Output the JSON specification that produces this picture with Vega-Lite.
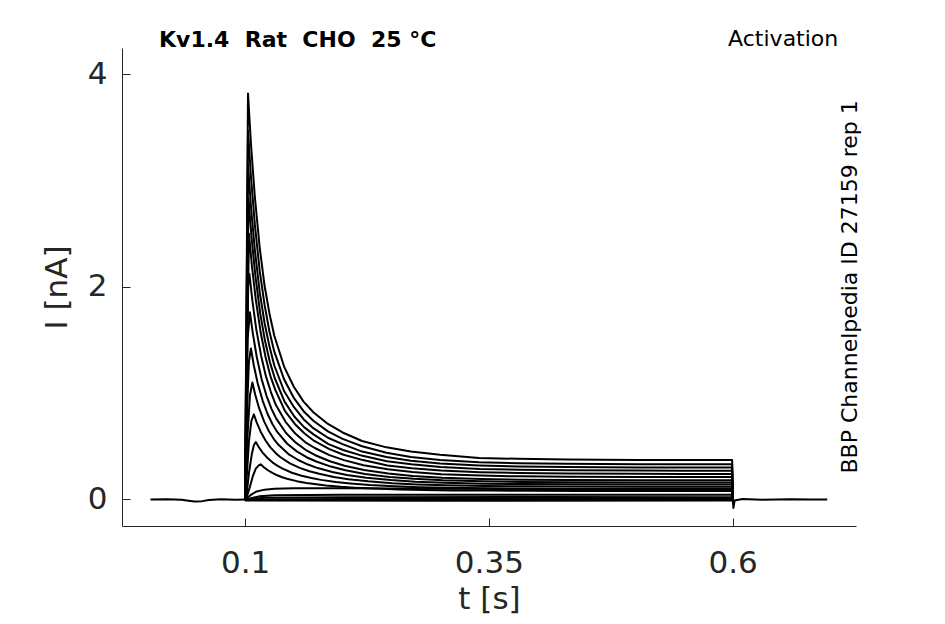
{
  "$schema": "https://vega.github.io/schema/vega-lite/v6.json",
  "width": 734,
  "height": 478,
  "autosize": "none",
  "padding": {"left": 122, "top": 48, "right": 89, "bottom": 98},
  "background": "white",
  "config": {
    "view": {"stroke": null},
    "font": "DejaVu Sans",
    "axis": {
      "grid": false,
      "domainColor": "#262626",
      "tickColor": "#262626",
      "labelColor": "#262626",
      "titleColor": "#262626",
      "labelFont": "DejaVu Sans",
      "titleFont": "DejaVu Sans",
      "labelFontSize": 31,
      "titleFontSize": 31,
      "titleFontWeight": "normal",
      "tickSize": -8
    }
  },
  "datasets": {
    "traces": [
      {"trace": "pre", "t": 0.003, "i": 0},
      {"trace": "pre", "t": 0.02, "i": 0.002},
      {"trace": "pre", "t": 0.035, "i": -0.003},
      {"trace": "pre", "t": 0.042, "i": -0.012},
      {"trace": "pre", "t": 0.048, "i": -0.02},
      {"trace": "pre", "t": 0.056, "i": -0.016},
      {"trace": "pre", "t": 0.063, "i": -0.006},
      {"trace": "pre", "t": 0.075, "i": 0.001},
      {"trace": "pre", "t": 0.09, "i": -0.002},
      {"trace": "pre", "t": 0.1, "i": 0},

      {"trace": "post", "t": 0.6, "i": 0},
      {"trace": "post", "t": 0.6008, "i": -0.08},
      {"trace": "post", "t": 0.602, "i": -0.01},
      {"trace": "post", "t": 0.61, "i": 0.004},
      {"trace": "post", "t": 0.63, "i": -0.002},
      {"trace": "post", "t": 0.66, "i": 0.002},
      {"trace": "post", "t": 0.68, "i": -0.001},
      {"trace": "post", "t": 0.697, "i": 0},

      {"trace": "s01", "t": 0.1, "i": 0},
      {"trace": "s01", "t": 0.103, "i": 3.82},
      {"trace": "s01", "t": 0.106, "i": 3.35},
      {"trace": "s01", "t": 0.11, "i": 2.85},
      {"trace": "s01", "t": 0.115, "i": 2.37},
      {"trace": "s01", "t": 0.12, "i": 2.01},
      {"trace": "s01", "t": 0.125, "i": 1.75},
      {"trace": "s01", "t": 0.13, "i": 1.54},
      {"trace": "s01", "t": 0.14, "i": 1.25},
      {"trace": "s01", "t": 0.15, "i": 1.06},
      {"trace": "s01", "t": 0.16, "i": 0.92},
      {"trace": "s01", "t": 0.17, "i": 0.82},
      {"trace": "s01", "t": 0.185, "i": 0.71},
      {"trace": "s01", "t": 0.2, "i": 0.63},
      {"trace": "s01", "t": 0.22, "i": 0.55},
      {"trace": "s01", "t": 0.245, "i": 0.49},
      {"trace": "s01", "t": 0.27, "i": 0.45},
      {"trace": "s01", "t": 0.3, "i": 0.42},
      {"trace": "s01", "t": 0.34, "i": 0.39},
      {"trace": "s01", "t": 0.38, "i": 0.382},
      {"trace": "s01", "t": 0.43, "i": 0.375},
      {"trace": "s01", "t": 0.503, "i": 0.371},
      {"trace": "s01", "t": 0.55, "i": 0.37},
      {"trace": "s01", "t": 0.5995, "i": 0.37},
      {"trace": "s01", "t": 0.6, "i": 0},

      {"trace": "s02", "t": 0.1, "i": 0},
      {"trace": "s02", "t": 0.103, "i": 3.47},
      {"trace": "s02", "t": 0.106, "i": 3.04},
      {"trace": "s02", "t": 0.11, "i": 2.59},
      {"trace": "s02", "t": 0.115, "i": 2.15},
      {"trace": "s02", "t": 0.12, "i": 1.83},
      {"trace": "s02", "t": 0.125, "i": 1.58},
      {"trace": "s02", "t": 0.13, "i": 1.39},
      {"trace": "s02", "t": 0.14, "i": 1.13},
      {"trace": "s02", "t": 0.15, "i": 0.955},
      {"trace": "s02", "t": 0.16, "i": 0.83},
      {"trace": "s02", "t": 0.17, "i": 0.74},
      {"trace": "s02", "t": 0.185, "i": 0.64},
      {"trace": "s02", "t": 0.2, "i": 0.57},
      {"trace": "s02", "t": 0.22, "i": 0.5},
      {"trace": "s02", "t": 0.245, "i": 0.44},
      {"trace": "s02", "t": 0.27, "i": 0.4},
      {"trace": "s02", "t": 0.3, "i": 0.37},
      {"trace": "s02", "t": 0.34, "i": 0.35},
      {"trace": "s02", "t": 0.38, "i": 0.341},
      {"trace": "s02", "t": 0.43, "i": 0.335},
      {"trace": "s02", "t": 0.503, "i": 0.331},
      {"trace": "s02", "t": 0.55, "i": 0.33},
      {"trace": "s02", "t": 0.5995, "i": 0.33},
      {"trace": "s02", "t": 0.6, "i": 0},

      {"trace": "s03", "t": 0.1, "i": 0},
      {"trace": "s03", "t": 0.103, "i": 3.15},
      {"trace": "s03", "t": 0.106, "i": 2.76},
      {"trace": "s03", "t": 0.11, "i": 2.35},
      {"trace": "s03", "t": 0.115, "i": 1.95},
      {"trace": "s03", "t": 0.12, "i": 1.66},
      {"trace": "s03", "t": 0.125, "i": 1.44},
      {"trace": "s03", "t": 0.13, "i": 1.26},
      {"trace": "s03", "t": 0.14, "i": 1.02},
      {"trace": "s03", "t": 0.15, "i": 0.87},
      {"trace": "s03", "t": 0.16, "i": 0.755},
      {"trace": "s03", "t": 0.17, "i": 0.67},
      {"trace": "s03", "t": 0.185, "i": 0.58},
      {"trace": "s03", "t": 0.2, "i": 0.52},
      {"trace": "s03", "t": 0.22, "i": 0.45},
      {"trace": "s03", "t": 0.245, "i": 0.4},
      {"trace": "s03", "t": 0.27, "i": 0.364},
      {"trace": "s03", "t": 0.3, "i": 0.338},
      {"trace": "s03", "t": 0.34, "i": 0.32},
      {"trace": "s03", "t": 0.38, "i": 0.31},
      {"trace": "s03", "t": 0.43, "i": 0.304},
      {"trace": "s03", "t": 0.503, "i": 0.301},
      {"trace": "s03", "t": 0.55, "i": 0.3},
      {"trace": "s03", "t": 0.5995, "i": 0.3},
      {"trace": "s03", "t": 0.6, "i": 0},

      {"trace": "s04", "t": 0.1, "i": 0},
      {"trace": "s04", "t": 0.1035, "i": 2.83},
      {"trace": "s04", "t": 0.1065, "i": 2.48},
      {"trace": "s04", "t": 0.1105, "i": 2.11},
      {"trace": "s04", "t": 0.1155, "i": 1.75},
      {"trace": "s04", "t": 0.1205, "i": 1.49},
      {"trace": "s04", "t": 0.1255, "i": 1.29},
      {"trace": "s04", "t": 0.1305, "i": 1.14},
      {"trace": "s04", "t": 0.1405, "i": 0.92},
      {"trace": "s04", "t": 0.1505, "i": 0.78},
      {"trace": "s04", "t": 0.1605, "i": 0.68},
      {"trace": "s04", "t": 0.1705, "i": 0.61},
      {"trace": "s04", "t": 0.1855, "i": 0.52},
      {"trace": "s04", "t": 0.2005, "i": 0.465},
      {"trace": "s04", "t": 0.2205, "i": 0.41},
      {"trace": "s04", "t": 0.2455, "i": 0.36},
      {"trace": "s04", "t": 0.2705, "i": 0.33},
      {"trace": "s04", "t": 0.3005, "i": 0.304},
      {"trace": "s04", "t": 0.3405, "i": 0.287},
      {"trace": "s04", "t": 0.3805, "i": 0.279},
      {"trace": "s04", "t": 0.4305, "i": 0.274},
      {"trace": "s04", "t": 0.5035, "i": 0.271},
      {"trace": "s04", "t": 0.55, "i": 0.27},
      {"trace": "s04", "t": 0.5995, "i": 0.27},
      {"trace": "s04", "t": 0.6, "i": 0},

      {"trace": "s05", "t": 0.1, "i": 0},
      {"trace": "s05", "t": 0.104, "i": 2.5},
      {"trace": "s05", "t": 0.107, "i": 2.2},
      {"trace": "s05", "t": 0.111, "i": 1.88},
      {"trace": "s05", "t": 0.116, "i": 1.57},
      {"trace": "s05", "t": 0.121, "i": 1.34},
      {"trace": "s05", "t": 0.126, "i": 1.16},
      {"trace": "s05", "t": 0.131, "i": 1.03},
      {"trace": "s05", "t": 0.141, "i": 0.83},
      {"trace": "s05", "t": 0.151, "i": 0.71},
      {"trace": "s05", "t": 0.161, "i": 0.62},
      {"trace": "s05", "t": 0.171, "i": 0.55},
      {"trace": "s05", "t": 0.186, "i": 0.475},
      {"trace": "s05", "t": 0.201, "i": 0.42},
      {"trace": "s05", "t": 0.221, "i": 0.37},
      {"trace": "s05", "t": 0.246, "i": 0.32},
      {"trace": "s05", "t": 0.271, "i": 0.293},
      {"trace": "s05", "t": 0.301, "i": 0.272},
      {"trace": "s05", "t": 0.341, "i": 0.256},
      {"trace": "s05", "t": 0.381, "i": 0.248},
      {"trace": "s05", "t": 0.431, "i": 0.243},
      {"trace": "s05", "t": 0.504, "i": 0.241},
      {"trace": "s05", "t": 0.55, "i": 0.24},
      {"trace": "s05", "t": 0.5995, "i": 0.24},
      {"trace": "s05", "t": 0.6, "i": 0},

      {"trace": "s06", "t": 0.1, "i": 0},
      {"trace": "s06", "t": 0.103, "i": 2.0},
      {"trace": "s06", "t": 0.1045, "i": 2.12},
      {"trace": "s06", "t": 0.1075, "i": 1.87},
      {"trace": "s06", "t": 0.1115, "i": 1.6},
      {"trace": "s06", "t": 0.1165, "i": 1.35},
      {"trace": "s06", "t": 0.1215, "i": 1.155},
      {"trace": "s06", "t": 0.1265, "i": 1.01},
      {"trace": "s06", "t": 0.1315, "i": 0.89},
      {"trace": "s06", "t": 0.1415, "i": 0.73},
      {"trace": "s06", "t": 0.1515, "i": 0.62},
      {"trace": "s06", "t": 0.1615, "i": 0.54},
      {"trace": "s06", "t": 0.1715, "i": 0.484},
      {"trace": "s06", "t": 0.1865, "i": 0.417},
      {"trace": "s06", "t": 0.2015, "i": 0.37},
      {"trace": "s06", "t": 0.2215, "i": 0.322},
      {"trace": "s06", "t": 0.2465, "i": 0.283},
      {"trace": "s06", "t": 0.2715, "i": 0.257},
      {"trace": "s06", "t": 0.3015, "i": 0.238},
      {"trace": "s06", "t": 0.3415, "i": 0.224},
      {"trace": "s06", "t": 0.3815, "i": 0.217},
      {"trace": "s06", "t": 0.4315, "i": 0.213},
      {"trace": "s06", "t": 0.5045, "i": 0.211},
      {"trace": "s06", "t": 0.55, "i": 0.21},
      {"trace": "s06", "t": 0.5995, "i": 0.21},
      {"trace": "s06", "t": 0.6, "i": 0},

      {"trace": "s07", "t": 0.1, "i": 0},
      {"trace": "s07", "t": 0.1025, "i": 1.5},
      {"trace": "s07", "t": 0.105, "i": 1.76},
      {"trace": "s07", "t": 0.108, "i": 1.56},
      {"trace": "s07", "t": 0.112, "i": 1.34},
      {"trace": "s07", "t": 0.117, "i": 1.13},
      {"trace": "s07", "t": 0.122, "i": 0.975},
      {"trace": "s07", "t": 0.127, "i": 0.854},
      {"trace": "s07", "t": 0.132, "i": 0.76},
      {"trace": "s07", "t": 0.142, "i": 0.625},
      {"trace": "s07", "t": 0.152, "i": 0.534},
      {"trace": "s07", "t": 0.162, "i": 0.467},
      {"trace": "s07", "t": 0.172, "i": 0.416},
      {"trace": "s07", "t": 0.187, "i": 0.359},
      {"trace": "s07", "t": 0.202, "i": 0.317},
      {"trace": "s07", "t": 0.222, "i": 0.277},
      {"trace": "s07", "t": 0.247, "i": 0.243},
      {"trace": "s07", "t": 0.272, "i": 0.221},
      {"trace": "s07", "t": 0.302, "i": 0.204},
      {"trace": "s07", "t": 0.342, "i": 0.192},
      {"trace": "s07", "t": 0.382, "i": 0.186},
      {"trace": "s07", "t": 0.432, "i": 0.183},
      {"trace": "s07", "t": 0.505, "i": 0.181},
      {"trace": "s07", "t": 0.55, "i": 0.18},
      {"trace": "s07", "t": 0.5995, "i": 0.18},
      {"trace": "s07", "t": 0.6, "i": 0},

      {"trace": "s08", "t": 0.1, "i": 0},
      {"trace": "s08", "t": 0.1025, "i": 0.95},
      {"trace": "s08", "t": 0.104, "i": 1.3},
      {"trace": "s08", "t": 0.106, "i": 1.42},
      {"trace": "s08", "t": 0.109, "i": 1.26},
      {"trace": "s08", "t": 0.113, "i": 1.09},
      {"trace": "s08", "t": 0.118, "i": 0.93},
      {"trace": "s08", "t": 0.123, "i": 0.806},
      {"trace": "s08", "t": 0.128, "i": 0.71},
      {"trace": "s08", "t": 0.133, "i": 0.635},
      {"trace": "s08", "t": 0.143, "i": 0.526},
      {"trace": "s08", "t": 0.153, "i": 0.452},
      {"trace": "s08", "t": 0.163, "i": 0.397},
      {"trace": "s08", "t": 0.173, "i": 0.357},
      {"trace": "s08", "t": 0.188, "i": 0.309},
      {"trace": "s08", "t": 0.203, "i": 0.274},
      {"trace": "s08", "t": 0.223, "i": 0.24},
      {"trace": "s08", "t": 0.248, "i": 0.212},
      {"trace": "s08", "t": 0.273, "i": 0.194},
      {"trace": "s08", "t": 0.303, "i": 0.18},
      {"trace": "s08", "t": 0.343, "i": 0.17},
      {"trace": "s08", "t": 0.383, "i": 0.165},
      {"trace": "s08", "t": 0.433, "i": 0.162},
      {"trace": "s08", "t": 0.506, "i": 0.16},
      {"trace": "s08", "t": 0.5995, "i": 0.16},
      {"trace": "s08", "t": 0.6, "i": 0},

      {"trace": "s09", "t": 0.1, "i": 0},
      {"trace": "s09", "t": 0.1025, "i": 0.6},
      {"trace": "s09", "t": 0.105, "i": 0.98},
      {"trace": "s09", "t": 0.1075, "i": 1.1},
      {"trace": "s09", "t": 0.1105, "i": 0.983},
      {"trace": "s09", "t": 0.1145, "i": 0.856},
      {"trace": "s09", "t": 0.1195, "i": 0.734},
      {"trace": "s09", "t": 0.1245, "i": 0.641},
      {"trace": "s09", "t": 0.1295, "i": 0.568},
      {"trace": "s09", "t": 0.1345, "i": 0.511},
      {"trace": "s09", "t": 0.1445, "i": 0.427},
      {"trace": "s09", "t": 0.1545, "i": 0.371},
      {"trace": "s09", "t": 0.1645, "i": 0.328},
      {"trace": "s09", "t": 0.1745, "i": 0.295},
      {"trace": "s09", "t": 0.1895, "i": 0.258},
      {"trace": "s09", "t": 0.2045, "i": 0.23},
      {"trace": "s09", "t": 0.2245, "i": 0.204},
      {"trace": "s09", "t": 0.2495, "i": 0.182},
      {"trace": "s09", "t": 0.2745, "i": 0.167},
      {"trace": "s09", "t": 0.3045, "i": 0.156},
      {"trace": "s09", "t": 0.3445, "i": 0.148},
      {"trace": "s09", "t": 0.3845, "i": 0.144},
      {"trace": "s09", "t": 0.4345, "i": 0.142},
      {"trace": "s09", "t": 0.5075, "i": 0.14},
      {"trace": "s09", "t": 0.5995, "i": 0.14},
      {"trace": "s09", "t": 0.6, "i": 0},

      {"trace": "s10", "t": 0.1, "i": 0},
      {"trace": "s10", "t": 0.102, "i": 0.25},
      {"trace": "s10", "t": 0.104, "i": 0.55},
      {"trace": "s10", "t": 0.1065, "i": 0.74},
      {"trace": "s10", "t": 0.109, "i": 0.8},
      {"trace": "s10", "t": 0.112, "i": 0.722},
      {"trace": "s10", "t": 0.116, "i": 0.637},
      {"trace": "s10", "t": 0.121, "i": 0.554},
      {"trace": "s10", "t": 0.126, "i": 0.49},
      {"trace": "s10", "t": 0.131, "i": 0.44},
      {"trace": "s10", "t": 0.136, "i": 0.399},
      {"trace": "s10", "t": 0.146, "i": 0.339},
      {"trace": "s10", "t": 0.156, "i": 0.297},
      {"trace": "s10", "t": 0.166, "i": 0.265},
      {"trace": "s10", "t": 0.176, "i": 0.241},
      {"trace": "s10", "t": 0.191, "i": 0.211},
      {"trace": "s10", "t": 0.206, "i": 0.19},
      {"trace": "s10", "t": 0.226, "i": 0.17},
      {"trace": "s10", "t": 0.251, "i": 0.152},
      {"trace": "s10", "t": 0.276, "i": 0.141},
      {"trace": "s10", "t": 0.306, "i": 0.133},
      {"trace": "s10", "t": 0.346, "i": 0.126},
      {"trace": "s10", "t": 0.386, "i": 0.123},
      {"trace": "s10", "t": 0.436, "i": 0.121},
      {"trace": "s10", "t": 0.509, "i": 0.12},
      {"trace": "s10", "t": 0.5995, "i": 0.12},
      {"trace": "s10", "t": 0.6, "i": 0},

      {"trace": "s11", "t": 0.1, "i": 0},
      {"trace": "s11", "t": 0.102, "i": 0.08},
      {"trace": "s11", "t": 0.104, "i": 0.25},
      {"trace": "s11", "t": 0.107, "i": 0.43},
      {"trace": "s11", "t": 0.109, "i": 0.51},
      {"trace": "s11", "t": 0.111, "i": 0.54},
      {"trace": "s11", "t": 0.114, "i": 0.493},
      {"trace": "s11", "t": 0.118, "i": 0.441},
      {"trace": "s11", "t": 0.123, "i": 0.39},
      {"trace": "s11", "t": 0.128, "i": 0.349},
      {"trace": "s11", "t": 0.133, "i": 0.318},
      {"trace": "s11", "t": 0.138, "i": 0.292},
      {"trace": "s11", "t": 0.148, "i": 0.251},
      {"trace": "s11", "t": 0.158, "i": 0.223},
      {"trace": "s11", "t": 0.168, "i": 0.202},
      {"trace": "s11", "t": 0.178, "i": 0.184},
      {"trace": "s11", "t": 0.193, "i": 0.164},
      {"trace": "s11", "t": 0.208, "i": 0.15},
      {"trace": "s11", "t": 0.228, "i": 0.135},
      {"trace": "s11", "t": 0.253, "i": 0.123},
      {"trace": "s11", "t": 0.278, "i": 0.115},
      {"trace": "s11", "t": 0.308, "i": 0.109},
      {"trace": "s11", "t": 0.348, "i": 0.104},
      {"trace": "s11", "t": 0.388, "i": 0.102},
      {"trace": "s11", "t": 0.438, "i": 0.101},
      {"trace": "s11", "t": 0.511, "i": 0.1},
      {"trace": "s11", "t": 0.5995, "i": 0.1},
      {"trace": "s11", "t": 0.6, "i": 0},

      {"trace": "s12", "t": 0.1, "i": 0},
      {"trace": "s12", "t": 0.102, "i": 0.03},
      {"trace": "s12", "t": 0.105, "i": 0.12},
      {"trace": "s12", "t": 0.108, "i": 0.22},
      {"trace": "s12", "t": 0.111, "i": 0.29},
      {"trace": "s12", "t": 0.114, "i": 0.32},
      {"trace": "s12", "t": 0.116, "i": 0.33},
      {"trace": "s12", "t": 0.119, "i": 0.305},
      {"trace": "s12", "t": 0.123, "i": 0.277},
      {"trace": "s12", "t": 0.128, "i": 0.249},
      {"trace": "s12", "t": 0.133, "i": 0.227},
      {"trace": "s12", "t": 0.138, "i": 0.209},
      {"trace": "s12", "t": 0.143, "i": 0.195},
      {"trace": "s12", "t": 0.153, "i": 0.172},
      {"trace": "s12", "t": 0.163, "i": 0.155},
      {"trace": "s12", "t": 0.173, "i": 0.142},
      {"trace": "s12", "t": 0.183, "i": 0.131},
      {"trace": "s12", "t": 0.198, "i": 0.119},
      {"trace": "s12", "t": 0.213, "i": 0.111},
      {"trace": "s12", "t": 0.233, "i": 0.102},
      {"trace": "s12", "t": 0.258, "i": 0.094},
      {"trace": "s12", "t": 0.283, "i": 0.089},
      {"trace": "s12", "t": 0.313, "i": 0.085},
      {"trace": "s12", "t": 0.353, "i": 0.083},
      {"trace": "s12", "t": 0.393, "i": 0.081},
      {"trace": "s12", "t": 0.443, "i": 0.08},
      {"trace": "s12", "t": 0.5995, "i": 0.08},
      {"trace": "s12", "t": 0.6, "i": 0},

      {"trace": "s13", "t": 0.1, "i": 0},
      {"trace": "s13", "t": 0.103, "i": 0.02},
      {"trace": "s13", "t": 0.107, "i": 0.05},
      {"trace": "s13", "t": 0.112, "i": 0.075},
      {"trace": "s13", "t": 0.12, "i": 0.092},
      {"trace": "s13", "t": 0.13, "i": 0.1},
      {"trace": "s13", "t": 0.15, "i": 0.105},
      {"trace": "s13", "t": 0.2, "i": 0.105},
      {"trace": "s13", "t": 0.25, "i": 0.103},
      {"trace": "s13", "t": 0.3, "i": 0.1},
      {"trace": "s13", "t": 0.4, "i": 0.097},
      {"trace": "s13", "t": 0.5, "i": 0.094},
      {"trace": "s13", "t": 0.5995, "i": 0.09},
      {"trace": "s13", "t": 0.6, "i": 0},

      {"trace": "s14", "t": 0.1, "i": 0},
      {"trace": "s14", "t": 0.105, "i": 0.01},
      {"trace": "s14", "t": 0.115, "i": 0.03},
      {"trace": "s14", "t": 0.13, "i": 0.04},
      {"trace": "s14", "t": 0.2, "i": 0.045},
      {"trace": "s14", "t": 0.35, "i": 0.045},
      {"trace": "s14", "t": 0.5995, "i": 0.045},
      {"trace": "s14", "t": 0.6, "i": 0},

      {"trace": "s15", "t": 0.1, "i": 0},
      {"trace": "s15", "t": 0.12, "i": 0.015},
      {"trace": "s15", "t": 0.2, "i": 0.02},
      {"trace": "s15", "t": 0.4, "i": 0.022},
      {"trace": "s15", "t": 0.5995, "i": 0.02},
      {"trace": "s15", "t": 0.6, "i": 0},

      {"trace": "s16", "t": 0.1, "i": 0},
      {"trace": "s16", "t": 0.2, "i": 0.005},
      {"trace": "s16", "t": 0.4, "i": 0.004},
      {"trace": "s16", "t": 0.5995, "i": 0.005},
      {"trace": "s16", "t": 0.6, "i": 0},

      {"trace": "s17", "t": 0.1, "i": 0},
      {"trace": "s17", "t": 0.1005, "i": -0.01},
      {"trace": "s17", "t": 0.3, "i": -0.012},
      {"trace": "s17", "t": 0.5995, "i": -0.01},
      {"trace": "s17", "t": 0.6, "i": 0}
    ]
  },
  "layer": [
    {
      "data": {"name": "traces"},
      "mark": {"type": "line", "color": "black", "strokeWidth": 2, "strokeJoin": "round"},
      "encoding": {
        "x": {
          "field": "t",
          "type": "quantitative",
          "title": "t [s]",
          "scale": {"domain": [-0.0262, 0.7265], "nice": false, "zero": false},
          "axis": {"values": [0.1, 0.35, 0.6], "format": "~g", "labelPadding": 30, "titlePadding": 6}
        },
        "y": {
          "field": "i",
          "type": "quantitative",
          "title": "I [nA]",
          "scale": {"domain": [-0.25, 4.247], "nice": false, "zero": false},
          "axis": {"values": [0, 2, 4], "format": "d", "labelPadding": 23, "titlePadding": 14}
        },
        "detail": {"field": "trace", "type": "nominal"},
        "order": {"field": "t", "type": "quantitative"}
      }
    },
    {
      "data": {"values": [{"label": "Kv1.4\u00a0\u00a0Rat\u00a0\u00a0CHO\u00a0\u00a025 °C"}]},
      "mark": {"type": "text", "align": "left", "baseline": "middle", "fontSize": 22, "fontWeight": "bold", "color": "black", "font": "DejaVu Sans"},
      "encoding": {
        "x": {"datum": 0.0118, "type": "quantitative", "scale": {"domain": [-0.0262, 0.7265], "nice": false, "zero": false}},
        "y": {"datum": 4.32, "type": "quantitative", "scale": {"domain": [-0.25, 4.247], "nice": false, "zero": false}},
        "text": {"field": "label"}
      }
    },
    {
      "data": {"values": [{"label": "Activation"}]},
      "mark": {"type": "text", "align": "right", "baseline": "middle", "fontSize": 22, "color": "black", "font": "DejaVu Sans"},
      "encoding": {
        "x": {"datum": 0.7083, "type": "quantitative"},
        "y": {"datum": 4.33, "type": "quantitative"},
        "text": {"field": "label"}
      }
    },
    {
      "data": {"values": [{"label": "BBP Channelpedia ID 27159 rep 1"}]},
      "mark": {"type": "text", "align": "center", "baseline": "middle", "angle": 270, "fontSize": 22, "color": "black", "font": "DejaVu Sans"},
      "encoding": {
        "x": {"datum": 0.7206, "type": "quantitative"},
        "y": {"datum": 2.0, "type": "quantitative"},
        "text": {"field": "label"}
      }
    }
  ]
}
